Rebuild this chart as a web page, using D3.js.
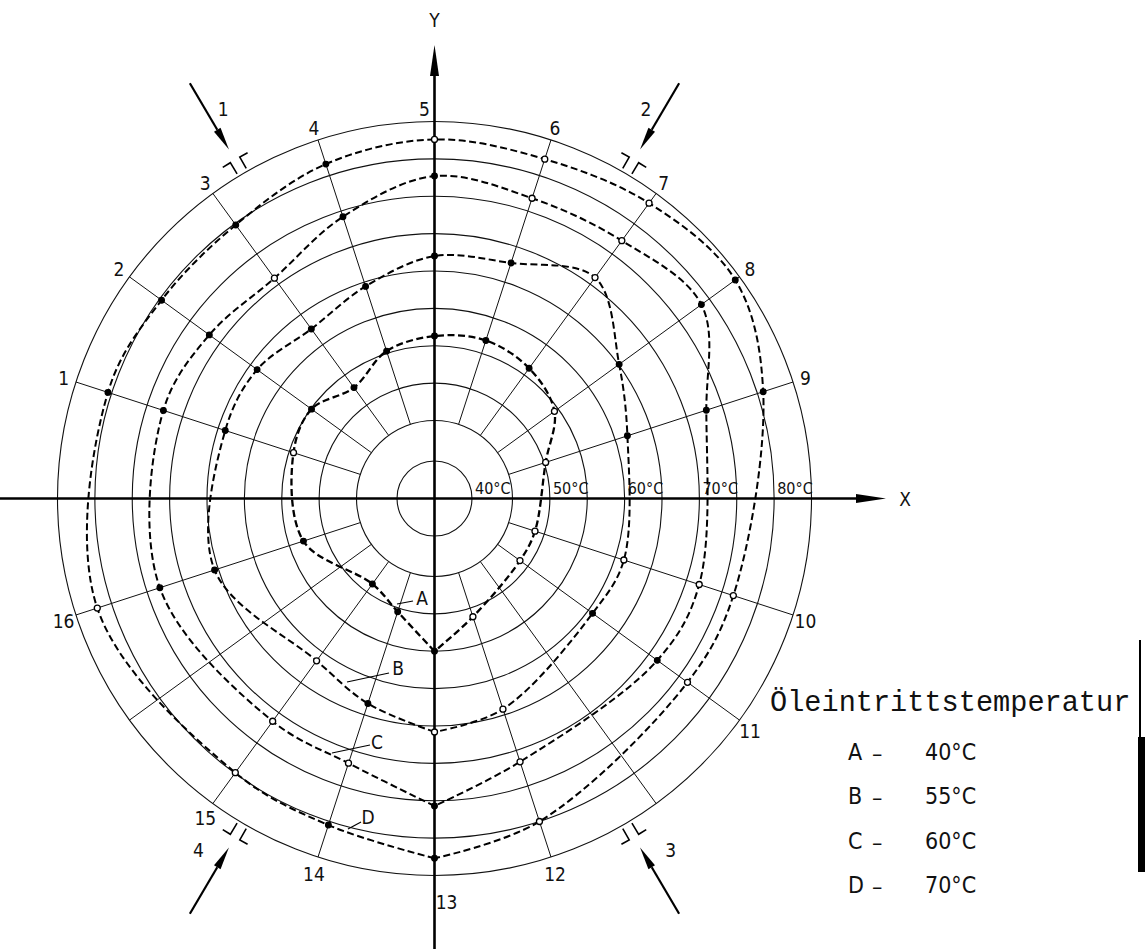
<!DOCTYPE html>
<html>
<head>
<meta charset="utf-8">
<script src="https://cdn.jsdelivr.net/npm/d3@7"></script>
<style>
  html, body { margin: 0; padding: 0; background: #fff; }
  svg { display: block; }
  .num { font-family: 'Liberation Sans Narrow', 'DejaVu Sans Condensed', 'Liberation Sans', sans-serif; fill: #111; }
</style>
</head>
<body>
<svg id="chart" width="1145" height="949"></svg>
<script>
// Measuring positions 1..16 around the bearing (degrees, counter-clockwise from +X)
const pointNumbers = ["1","2","3","4","5","6","7","8","9","10","11","12","13","14","15","16"];
const pointAngles  = [162, 144, 126, 108, 90, 72, 54, 36, 18, 342, 324, 288, 270, 252, 234, 198];

// Measured temperatures (°C) at positions 1..16 for each oil inlet temperature
const tempsA = [54.4, 54.9, 52.9, 55.3, 56.3, 56.8, 56.1, 54.4, 50.2, 48.7, 48.7, 51.2, 55.0, 50.5, 48.7, 53.0];
const tempsB = [64.0, 63.9, 62.6, 64.4, 67.0, 67.7, 71.1, 65.1, 61.7, 61.2, 60.7, 64.2, 65.8, 63.4, 61.4, 65.5];
const tempsC = [72.7, 71.8, 71.0, 74.2, 77.7, 76.8, 77.2, 78.7, 72.8, 71.8, 71.4, 71.6, 75.7, 71.8, 71.4, 73.2];
const tempsD = [80.5, 79.7, 79.8, 81.6, 82.6, 82.3, 83.4, 84.3, 80.8, 76.6, 76.4, 80.0, 82.7, 80.5, 79.9, 82.0];

// Series names and their oil inlet temperatures
const seriesNames = ["A", "B", "C", "D"];
const inletTemps  = [40, 55, 60, 70];

// Grid: temperature rings and radial spokes
const ringTemps    = [40, 45, 50, 55, 60, 65, 70, 75, 80, 85];
const ringLabels   = [40, 50, 60, 70, 80];
const spokeAngles  = [18, 36, 54, 72, 108, 126, 144, 162, 198, 216, 234, 252, 288, 306, 324, 342];

// Pad gaps with load arrows
const gapAngles  = [120.5, 59.5, 300.5, 239.5];
const gapLabels  = ["1", "2", "3", "4"];

const legendTitle = "Öleintrittstemperatur";

// ---------------------------------------------------------------
const svg = d3.select("#chart");
const cx = 434.5, cy = 498.5;

const r = d3.scaleLinear().domain([40, 45, 85]).range([37.5, 78, 377]);
const rOuter = r(85), rInner = r(45);

function polar(angleDeg, radius) {
  const a = angleDeg * Math.PI / 180;
  return [cx + radius * Math.cos(a), cy - radius * Math.sin(a)];
}

const g = svg.append("g");

// rings
g.selectAll("circle.ring").data(ringTemps).join("circle")
  .attr("class", "ring")
  .attr("cx", cx).attr("cy", cy)
  .attr("r", d => r(d))
  .attr("fill", "none")
  .attr("stroke", "#111")
  .attr("stroke-width", 1.1);

// spokes
g.selectAll("line.spoke").data(spokeAngles).join("line")
  .attr("class", "spoke")
  .attr("x1", d => polar(d, rInner)[0]).attr("y1", d => polar(d, rInner)[1])
  .attr("x2", d => polar(d, rOuter)[0]).attr("y2", d => polar(d, rOuter)[1])
  .attr("stroke", "#111")
  .attr("stroke-width", 1);

// axes
const axisW = 2.6;
g.append("line").attr("x1", 0).attr("y1", cy).attr("x2", 862).attr("y2", cy)
  .attr("stroke", "#000").attr("stroke-width", axisW);
g.append("path").attr("d", `M886,${cy} L856,${cy - 4.5} L856,${cy + 4.5} Z`).attr("fill", "#000");
g.append("text").attr("x", 905).attr("y", cy + 7).attr("text-anchor", "middle")
  .attr("class", "num").style("font-size", "19px").text("X");

g.append("line").attr("x1", cx).attr("y1", 949).attr("x2", cx).attr("y2", 70)
  .attr("stroke", "#000").attr("stroke-width", axisW);
g.append("path").attr("d", `M${cx},45 L${cx - 4.5},76 L${cx + 4.5},76 Z`).attr("fill", "#000");
g.append("text").attr("x", cx).attr("y", 27).attr("text-anchor", "middle")
  .attr("class", "num").style("font-size", "19px").text("Y");

// ring temperature labels along +X
g.selectAll("text.ringlab").data(ringLabels).join("text")
  .attr("class", "ringlab num")
  .attr("x", d => cx + r(d) + 3)
  .attr("y", cy - 5)
  .style("font-size", "16px")
  .text(d => d + "°C");

// measuring point numbers
g.selectAll("text.ptlab").data(pointNumbers).join("text")
  .attr("class", "ptlab num")
  .attr("text-anchor", "middle")
  .attr("dominant-baseline", "central")
  .style("font-size", "19px")
  .attr("x", (d, i) => {
    const a = pointAngles[i];
    if (a === 90) return cx - 10;
    if (a === 270) return cx + 12;
    return polar(a, rOuter + 13)[0];
  })
  .attr("y", (d, i) => {
    const a = pointAngles[i];
    if (a === 90) return cy - rOuter - 13;
    if (a === 270) return cy + rOuter + 26;
    return polar(a, rOuter + (a > 180 ? 18 : 13))[1];
  })
  .text(d => d);

// pad gaps (bracket marks) and load arrows
gapAngles.forEach((ga, k) => {
  const delta = 0.8;
  [-1, 1].forEach(side => {
    const a = ga + side * delta;
    const p0 = polar(a, rOuter + 3);
    const p1 = polar(a, rOuter + 16);
    const p2 = polar(a + side * 1.3, rOuter + 16);
    g.append("path")
      .attr("d", `M${p0[0]},${p0[1]} L${p1[0]},${p1[1]} L${p2[0]},${p2[1]}`)
      .attr("fill", "none").attr("stroke", "#000").attr("stroke-width", 1.6);
  });
  const tail = polar(ga, 482), tip = polar(ga, 405), base = polar(ga, 428);
  g.append("line").attr("x1", tail[0]).attr("y1", tail[1]).attr("x2", base[0]).attr("y2", base[1])
    .attr("stroke", "#000").attr("stroke-width", 2.2);
  const a = ga * Math.PI / 180;
  const px = Math.sin(a) * 3.8, py = Math.cos(a) * 3.8;
  g.append("path")
    .attr("d", `M${tip[0]},${tip[1]} L${base[0] + px},${base[1] + py} L${base[0] - px},${base[1] - py} Z`)
    .attr("fill", "#000");
  const top = ga < 180;
  const lp = polar(ga, top ? 452 : 410);
  const dx = (ga > 90 && ga < 270) ? (top ? 18 : -28) : (top ? -18 : 28);
  g.append("text").attr("class", "num")
    .attr("x", lp[0] + dx).attr("y", lp[1] + (top ? 0 : -2))
    .attr("text-anchor", "middle").attr("dominant-baseline", "central")
    .style("font-size", "19px").text(gapLabels[k]);
});

// temperature curves: each traced from position 13 round to 13 again
const allTemps = [tempsA, tempsB, tempsC, tempsD];
const hollow = [
  [1, 8, 9, 10, 11, 12],
  [7, 10, 12, 13, 15],
  [3, 6, 7, 10, 12, 14, 15],
  [5, 6, 7, 10, 11, 12, 15, 16]
];
const start = pointAngles.indexOf(270);
const order = d3.range(pointAngles.length + 1).map(k => (start + k) % pointAngles.length);

const curve = d3.line()
  .x(d => polar(d.angle, r(d.temp))[0])
  .y(d => polar(d.angle, r(d.temp))[1])
  .curve(d3.curveCatmullRom.alpha(0.5));

allTemps.forEach((temps, s) => {
  const pts = order.map(i => ({ angle: pointAngles[i], temp: temps[i] }));
  g.append("path")
    .attr("d", curve(pts))
    .attr("fill", "none")
    .attr("stroke", "#000")
    .attr("stroke-width", s === 0 ? 2.3 : 2)
    .attr("stroke-dasharray", "7,3.5");

  const marks = temps.map((t, i) => ({ angle: pointAngles[i], temp: t, no: i + 1 }));
  g.selectAll(null).data(marks).join("circle")
    .attr("cx", d => polar(d.angle, r(d.temp))[0])
    .attr("cy", d => polar(d.angle, r(d.temp))[1])
    .attr("r", d => hollow[s].includes(d.no) ? 3 : 2.8)
    .attr("fill", d => hollow[s].includes(d.no) ? "#fff" : "#000")
    .attr("stroke", "#000")
    .attr("stroke-width", 1.3);
});

// curve letters with leader lines
const curveTags = [
  { x: 422, y: 598, l: [397, 604, 413, 601] },
  { x: 398, y: 668, l: [347, 682, 389, 673] },
  { x: 377, y: 742, l: [332, 753, 370, 745] },
  { x: 368, y: 817, l: [348, 829, 361, 822] }
];
curveTags.forEach((t, i) => {
  g.append("line").attr("x1", t.l[0]).attr("y1", t.l[1]).attr("x2", t.l[2]).attr("y2", t.l[3])
    .attr("stroke", "#000").attr("stroke-width", 1.2);
  g.append("text").attr("class", "num")
    .attr("x", t.x).attr("y", t.y)
    .attr("text-anchor", "middle").attr("dominant-baseline", "central")
    .style("font-size", "19px").text(seriesNames[i]);
});

// legend
svg.append("text")
  .attr("x", 770).attr("y", 711)
  .style("font-family", "'Liberation Mono', 'DejaVu Sans Mono', monospace")
  .style("font-size", "28.6px")
  .attr("fill", "#111")
  .text(legendTitle);

const legend = svg.append("g");
seriesNames.forEach((n, i) => {
  const y = 760 + i * 44.3;
  const t = legend.append("text").attr("class", "num").attr("y", y).style("font-size", "23px");
  t.append("tspan").attr("x", 848).text(n);
  t.append("tspan").attr("x", 872).attr("dy", 2).text("–");
  t.append("tspan").attr("x", 925).attr("dy", -2).text(inletTemps[i] + "°C");
});

// frame edge at the right
svg.append("line").attr("x1", 1140).attr("y1", 640).attr("x2", 1140).attr("y2", 737)
  .attr("stroke", "#000").attr("stroke-width", 2);
svg.append("rect").attr("x", 1138).attr("y", 737).attr("width", 7).attr("height", 135).attr("fill", "#000");
</script>
</body>
</html>
